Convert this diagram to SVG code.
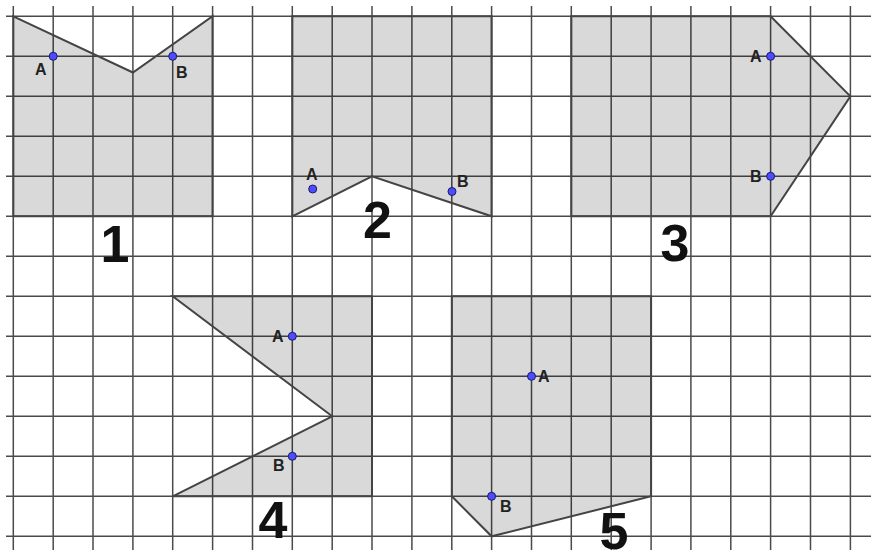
<svg xmlns="http://www.w3.org/2000/svg" width="871" height="550" viewBox="0 0 871 550">
<style>
.grid line{stroke:#4a4a4a;stroke-width:1.5}
.shape{fill:#000;fill-opacity:0.15;stroke:#444;stroke-width:2;stroke-linejoin:miter}
.pt{fill:#4d4dff;stroke:#1a1a66;stroke-width:1}
.lbl{font-family:"Liberation Sans",Arial,sans-serif;font-weight:bold;font-size:16px;fill:#222}
.num{font-family:"Liberation Sans",Arial,sans-serif;font-weight:bold;font-size:52px;fill:#111;text-anchor:middle}
</style>
<rect width="871" height="550" fill="#fff"/>
<g id="grid" class="grid">
<line x1="13.3" y1="6" x2="13.3" y2="550"/>
<line x1="53.2" y1="6" x2="53.2" y2="550"/>
<line x1="93.0" y1="6" x2="93.0" y2="550"/>
<line x1="132.9" y1="6" x2="132.9" y2="550"/>
<line x1="172.7" y1="6" x2="172.7" y2="550"/>
<line x1="212.6" y1="6" x2="212.6" y2="550"/>
<line x1="252.5" y1="6" x2="252.5" y2="550"/>
<line x1="292.3" y1="6" x2="292.3" y2="550"/>
<line x1="332.2" y1="6" x2="332.2" y2="550"/>
<line x1="372.0" y1="6" x2="372.0" y2="550"/>
<line x1="411.9" y1="6" x2="411.9" y2="550"/>
<line x1="451.8" y1="6" x2="451.8" y2="550"/>
<line x1="491.6" y1="6" x2="491.6" y2="550"/>
<line x1="531.5" y1="6" x2="531.5" y2="550"/>
<line x1="571.3" y1="6" x2="571.3" y2="550"/>
<line x1="611.2" y1="6" x2="611.2" y2="550"/>
<line x1="651.1" y1="6" x2="651.1" y2="550"/>
<line x1="690.9" y1="6" x2="690.9" y2="550"/>
<line x1="730.8" y1="6" x2="730.8" y2="550"/>
<line x1="770.6" y1="6" x2="770.6" y2="550"/>
<line x1="810.5" y1="6" x2="810.5" y2="550"/>
<line x1="850.4" y1="6" x2="850.4" y2="550"/>
<line x1="6" y1="16.3" x2="871" y2="16.3"/>
<line x1="6" y1="56.3" x2="871" y2="56.3"/>
<line x1="6" y1="96.3" x2="871" y2="96.3"/>
<line x1="6" y1="136.3" x2="871" y2="136.3"/>
<line x1="6" y1="176.3" x2="871" y2="176.3"/>
<line x1="6" y1="216.3" x2="871" y2="216.3"/>
<line x1="6" y1="256.3" x2="871" y2="256.3"/>
<line x1="6" y1="296.3" x2="871" y2="296.3"/>
<line x1="6" y1="336.3" x2="871" y2="336.3"/>
<line x1="6" y1="376.3" x2="871" y2="376.3"/>
<line x1="6" y1="416.3" x2="871" y2="416.3"/>
<line x1="6" y1="456.3" x2="871" y2="456.3"/>
<line x1="6" y1="496.3" x2="871" y2="496.3"/>
<line x1="6" y1="536.3" x2="871" y2="536.3"/>
</g>
<g id="shape1">
<polygon class="shape" points="13.3,16.3 132.9,72.5 212.6,16.3 212.6,216.3 13.3,216.3"/>
<circle class="pt" cx="53.2" cy="56.3" r="4"/>
<text class="lbl" x="35" y="75">A</text>
<circle class="pt" cx="172.7" cy="56.3" r="4"/>
<text class="lbl" x="176" y="78">B</text>
<text class="num" x="115" y="262">1</text>
</g>
<g id="shape2">
<polygon class="shape" points="292.3,16.3 491.6,16.3 491.6,216.3 372.0,176.3 292.3,216.3"/>
<circle class="pt" cx="312.7" cy="189" r="4"/>
<text class="lbl" x="306" y="180">A</text>
<circle class="pt" cx="452" cy="191.5" r="4"/>
<text class="lbl" x="457" y="187">B</text>
<text class="num" x="377.5" y="238">2</text>
</g>
<g id="shape3">
<polygon class="shape" points="571.3,16.3 770.6,16.3 850.4,96.3 770.6,216.3 571.3,216.3"/>
<circle class="pt" cx="770.6" cy="56.3" r="4"/>
<text class="lbl" x="750" y="62">A</text>
<circle class="pt" cx="770.6" cy="176.3" r="4"/>
<text class="lbl" x="750" y="182">B</text>
<text class="num" x="675" y="261">3</text>
</g>
<g id="shape4">
<polygon class="shape" points="172.7,296.3 372.0,296.3 372.0,496.3 172.7,496.3 332.2,416.3"/>
<circle class="pt" cx="292.3" cy="336.3" r="4"/>
<text class="lbl" x="272" y="342">A</text>
<circle class="pt" cx="292.3" cy="456.3" r="4"/>
<text class="lbl" x="273" y="471">B</text>
<text class="num" x="273" y="538">4</text>
</g>
<g id="shape5">
<polygon class="shape" points="451.8,296.3 651.1,296.3 651.1,496.3 491.6,536.3 451.8,496.3"/>
<circle class="pt" cx="531.5" cy="376.3" r="4"/>
<text class="lbl" x="538" y="382">A</text>
<circle class="pt" cx="491.6" cy="496.3" r="4"/>
<text class="lbl" x="500" y="512">B</text>
<text class="num" x="614" y="549">5</text>
</g>
<g id="connectors"/>
</svg>
